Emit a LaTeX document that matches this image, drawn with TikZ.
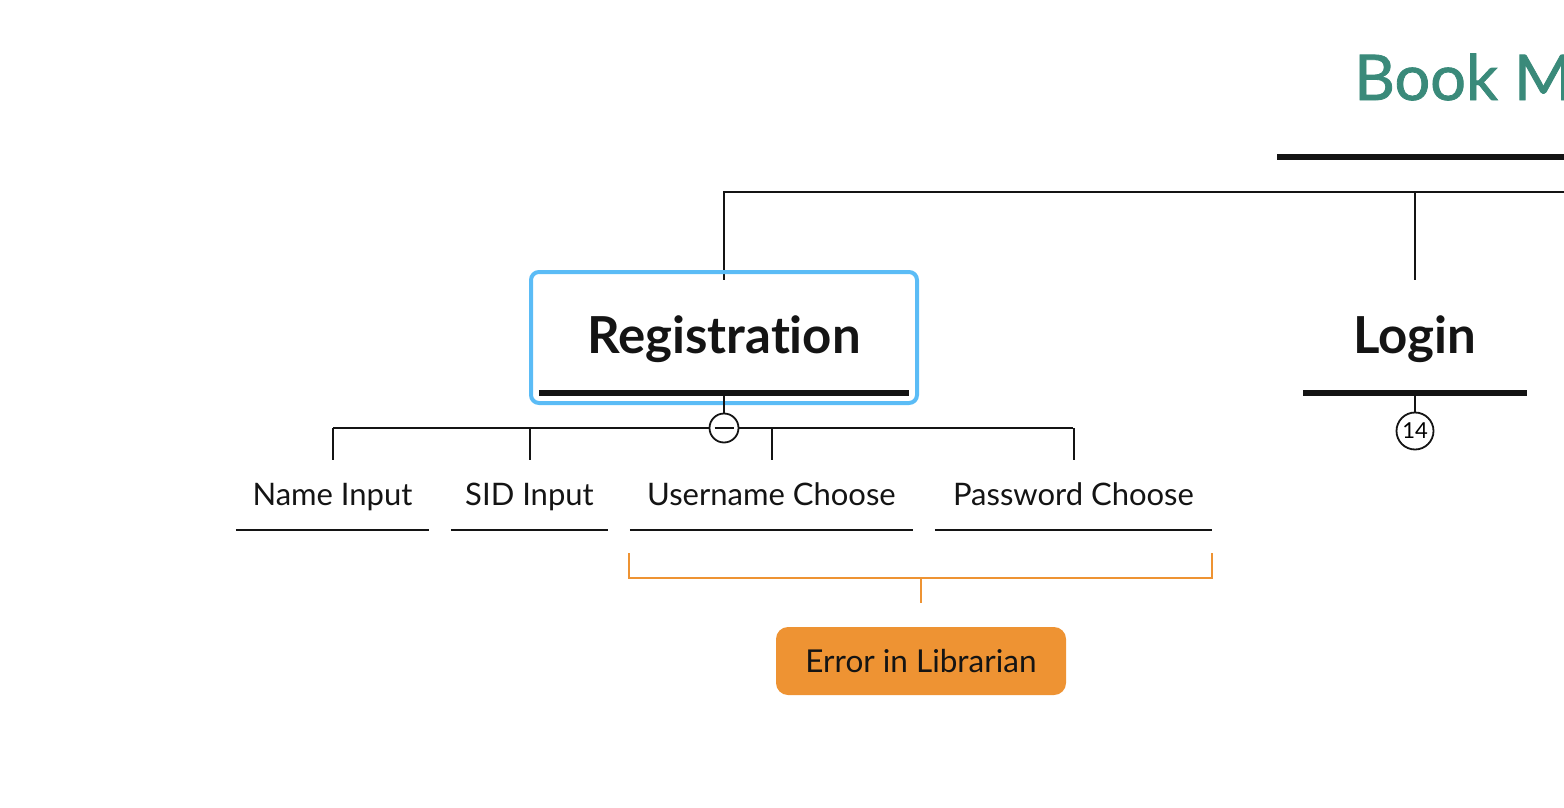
\documentclass[tikz,border=0pt]{standalone}
\usepackage{fontspec}
\setmainfont{Lato}[Ligatures=NoCommon]
\definecolor{teal}{HTML}{3A8A7A}
\definecolor{selblue}{HTML}{5BBCF6}
\definecolor{orng}{HTML}{EE9333}
\definecolor{ink}{HTML}{141414}
\begin{document}
\begin{tikzpicture}[x=1pt,y=-1pt,
  conn/.style={draw=ink,line width=2pt},
  bar/.style={draw=ink,line width=6.5pt},
  childnode/.style={font=\fontsize{31}{33}\selectfont,text=ink,anchor=base,inner xsep=0pt,inner ysep=0pt,text height=45pt,text depth=25pt},
  heading/.style={font=\bfseries\fontsize{51}{55}\selectfont,text=ink,anchor=base,inner sep=0pt},
  badge/.style={circle,draw=ink,line width=1.8pt,fill=white,inner sep=0pt},
  bracket/.style={draw=orng,line width=2pt}]
\useasboundingbox (0,0) rectangle (1564,808);
\clip (0,0) rectangle (1564,808);

% title
\node[font=\fontsize{63}{67}\selectfont\addfontfeatures{FakeBold=1.3},text=teal,anchor=base west,inner sep=0pt] (title) at (1354,100) {Book M};
\coordinate (tbarL) at (1277,157);
\coordinate (tbarR) at (1600,157);
\draw[bar] (tbarL) -- (tbarR);

% top connector
\coordinate (jR) at (1600,192);
\coordinate (jReg) at (724,192);
\coordinate (jLog) at (1415,192);
\coordinate (regIn) at (724,280);
\coordinate (logIn) at (1415,280);
\draw[conn] (jR) -- (jReg) -- (regIn);
\draw[conn] (jLog) -- (logIn);

% registration (selected)
\node[draw=selblue,line width=4pt,rounded corners=8pt,minimum width=386pt,minimum height=131pt,inner sep=0pt] (regbox) at (724,337.5) {};
\node[heading] (reg) at (724,353) {Registration};
\coordinate (regbarL) at (539,393);
\coordinate (regbarR) at (909,393);
\draw[bar] (regbarL) -- (regbarR);

% login
\node[heading] (log) at (1415,353) {Login};
\coordinate (logbarL) at (1303,393);
\coordinate (logbarR) at (1527,393);
\draw[bar] (logbarL) -- (logbarR);

% collapse badge
\coordinate (regbarM) at (724,393);
\node[badge,minimum size=29pt] (col) at (724,428) {};
\draw[conn] (regbarM) -- (col.north);
\draw[draw=ink,line width=1.8pt] ([xshift=-9.5pt]col.center) -- ([xshift=9.5pt]col.center);

% count badge
\coordinate (logbarM) at (1415,393);
\node[badge,minimum size=37pt,font=\fontsize{22}{24}\selectfont] (cnt) at (1415,431) {14};
\draw[conn] (logbarM) -- (cnt.north);

% children
\node[childnode,minimum width=193pt] (c1) at (332.5,505) {Name Input};
\node[childnode,minimum width=157pt] (c2) at (529.5,505) {SID Input};
\node[childnode,minimum width=283pt] (c3) at (771.5,505) {Username Choose};
\node[childnode,minimum width=277pt] (c4) at (1073.5,505) {Password Choose};
\foreach \c in {c1,c2,c3,c4}{\draw[conn] (\c.south west) -- (\c.south east);}

\coordinate (hL) at (333,428);
\coordinate (hR) at (1073,428);
\draw[conn] (hL) -- (col.west);
\draw[conn] (col.east) -- (hR);
\draw[conn] (333,428) -- (333,460);
\draw[conn] (c2.north |- hL) -- (c2.north);
\draw[conn] (772,428) -- (772,460);
\draw[conn] (c4.north |- hL) -- (c4.north);

% orange bracket and error
\coordinate (bL) at (629,553);
\coordinate (bR) at (1212,553);
\coordinate (bM) at (921,578);
\node[fill=orng,rounded corners=12pt,minimum width=290pt,minimum height=68pt,inner sep=0pt,font=\fontsize{31.5}{33}\selectfont,text=ink] (err) at (921,661) {Error in Librarian};
\draw[bracket] (bL) -- (bL |- bM) -- (bR |- bM) -- (bR);
\draw[bracket] (bM) -- ++(0,25);
\end{tikzpicture}
\end{document}
